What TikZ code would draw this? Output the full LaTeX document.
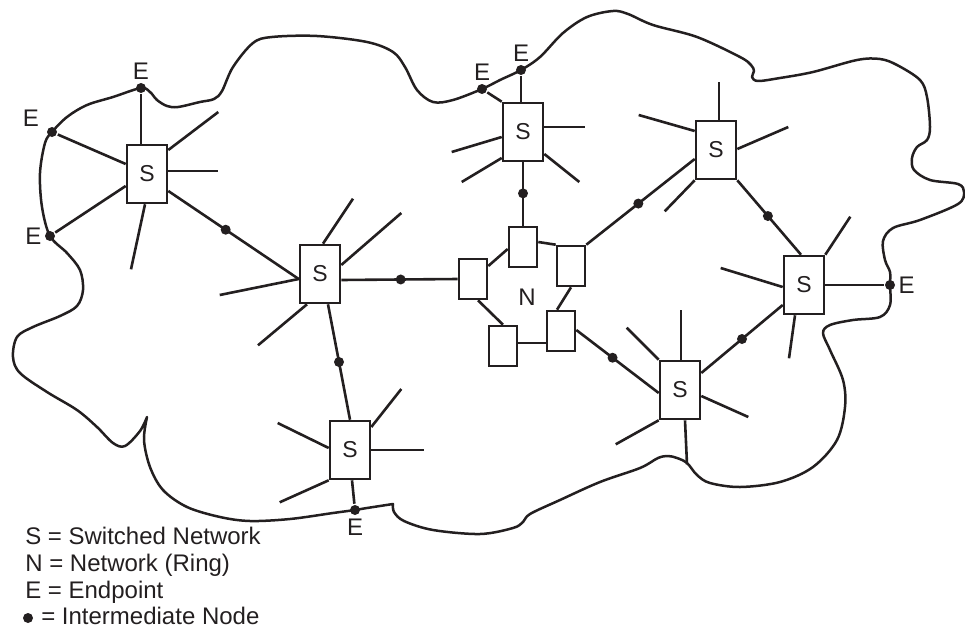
\documentclass[tikz,border=0pt]{standalone}
\usepackage{fontspec}
\setmainfont{Liberation Sans}
\usepackage{tikz}
\usetikzlibrary{calc}
\definecolor{ink}{RGB}{35,31,32}

\begin{document}
\begin{tikzpicture}[x=1pt, y=-1pt, line width=2.6pt, color=ink,
		switch/.style={draw, minimum width=40pt, minimum height=58pt, inner sep=0pt, font=\fontsize{23}{23}\selectfont},
		ringbox/.style={draw, minimum width=28pt, minimum height=40pt, inner sep=0pt},
		idot/.style={circle, fill, inner sep=0pt, minimum size=10pt},
		edot/.style={idot, label distance=7pt},
		elabel/.style={font=\fontsize{24}{24}\selectfont, inner sep=1pt},
		every label/.style={elabel},
		cloud/.style={draw, line width=2.5pt, line join=round}]
		\useasboundingbox (0,0) rectangle (965,629);
		% Cloud:
		\draw[cloud] plot[smooth, tension=.55] coordinates {(147,417) (140,431) (125,446) (113,443) (97,427) (77,410) (47,392) (20,373) (13,357) (17,337) (33,327) (60,316) (77,306) (83,290) (80,270) (67,253) (50,236) (42,207) (40,173) (45,143) (52,132) (67,117) (87,105) (113,97) (141,88) (150,92) (157,100) (167,106) (178,107) (200,102) (214,99) (222,91) (233,67) (253,43) (272,37) (317,36) (367,42) (393,52) (405,67) (417,90) (433,102) (453,100) (482,89) (500,80) (521,70) (540,57) (563,33) (587,17) (613,11) (628,14) (653,25) (697,37) (740,57) (751,65) (754,71) (752,77) (758,81) (780,78) (813,72) (857,60) (880,59) (897,65) (920,80) (927,97) (930,127) (927,140) (917,147) (912,158) (914,170) (930,180) (958,184) (964,192) (958,204) (920,220) (893,228) (883,241) (885,260) (890,272) (890,285) (890,305) (880,317) (853,320) (830,325) (823,333) (830,350) (843,380) (845,407) (837,440) (813,467) (780,482) (740,487) (710,483) (697,475) (687,463) (677,458) (668,456) (658,458) (640,468) (600,482) (560,500) (530,514) (523,522) (513,528) (480,534) (433,530) (404,521) (394,512) (393,504)}
			-- plot[smooth, tension=.55] coordinates {(393,504) (367,508) (355,510) (333,513) (290,519) (250,521) (220,517) (187,507) (163,490) (150,467) (144,440) (147,417)} -- cycle;

		% Switched networks and ring:
		\node[switch] (s1) at (147,174) {S};
		\node[switch] (s2) at (320,274) {S};
		\node[switch] (s3) at (523,132) {S};
		\node[switch] (s4) at (716,150) {S};
		\node[switch] (s5) at (804,285) {S};
		\node[switch] (s6) at (680,390) {S};
		\node[switch] (s7) at (350,450) {S};
		\node[ringbox] (r1) at (473,279) {};
		\node[ringbox] (r2) at (523,247) {};
		\node[ringbox] (r3) at (571,266) {};
		\node[ringbox] (r4) at (561,331) {};
		\node[ringbox] (r5) at (503,346) {};
		\node[elabel] (n) at (527,297) {N};

		% Endpoints:
		\node[edot, label={above:E}] (e1) at (141,88) {};
		\node[edot, label={[label distance=5pt]165:E}] (e2) at (52,132) {};
		\node[edot, label={left:E}] (e3) at (50,236) {};
		\node[edot, label={above:E}] (e4) at (521,70) {};
		\node[edot, label={above:E}] (e5) at (482,89) {};
		\node[edot, label={right:E}] (e6) at (890,285) {};
		\node[edot, label={below:E}] (e7) at (355,510) {};

		% Links with intermediate nodes:
		\draw ($(s1.east)+(0,17)$) -- node[idot, pos=.44] (i1) {} ($(s2.west)+(0,5)$);
		\draw ($(s2.east)+(0,6)$) -- node[idot, pos=.51] (i2) {} (r1.west);
		\draw ($(s2.south)+(8,0)$) -- node[idot, pos=.5] (i3) {} (s7.north);
		\draw (s3.south) -- node[idot, pos=.49] (i4) {} (r2.north);
		\draw (r3.north east) -- node[idot, pos=.48] (i5) {} ($(s4.west)+(0,9)$);
		\draw (s4.south east) -- node[idot, pos=.48] (i6) {} ($(s5.north)+(-3,0)$);
		\draw ($(s5.west)+(0,20)$) -- node[idot, pos=.5] (i7) {} ($(s6.east)+(0,-17)$);
		\draw ($(r4.east)+(0,-1)$) -- node[idot, pos=.44] (i8) {} ($(s6.west)+(0,3)$);

		% Ring:
		\draw ($(r1.east)+(0,-13)$) -- ($(r2.west)+(0,2)$);
		\draw ($(r2.east)+(0,-5)$) -- (r3.north west);
		\draw (r3.south) -- ($(r4.north)+(-4,0)$);
		\draw ($(r4.west)+(0,12)$) -- ($(r5.east)+(0,-3)$);
		\draw (r5.north) -- ($(r1.south)+(5,0)$);

		% Endpoint links:
		\draw (e1) -- (e1 |- s1.north);
		\draw (e2) -- ($(s1.west)+(0,-10)$);
		\draw (e3) -- ($(s1.west)+(0,12)$);
		\draw (e4) -- (e4 |- s3.north);
		\draw (e5) -- (s3.north west);
		\draw (s5.east) -- (e6);
		\draw ($(s7.south)+(2,0)$) -- (e7);

		% Open lines:
		\draw ($(s1.east)+(0,-24)$) -- +(50,-38);
		\draw ($(s1.east)+(0,-3)$) -- +(50,0);
		\draw ($(s1.south)+(-2,0)$) -- +(-14,65);
		\draw ($(s2.north)+(3,0)$) -- +(30,-45);
		\draw ($(s2.east)+(0,-9)$) -- +(60,-52);
		\draw ($(s2.west)+(0,5)$) -- +(-79,16);
		\draw ($(s2.south)+(-13,0)$) -- +(-49,41);
		\draw ($(s3.west)+(0,5)$) -- +(-50,15);
		\draw ($(s3.west)+(0,26)$) -- +(-40,24);
		\draw ($(s3.east)+(0,-5)$) -- +(41,0);
		\draw ($(s3.east)+(0,22)$) -- +(35,28);
		\draw ($(s4.north)+(3,0)$) -- +(0,-38);
		\draw ($(s4.west)+(0,-19)$) -- +(-56,-16);
		\draw ($(s4.east)+(0,-1)$) -- +(51,-22);
		\draw (s4.south west) -- +(-30,31);
		\draw (s5.north east) -- +(25,-38);
		\draw ($(s5.west)+(0,2)$) -- +(-62,-19);
		\draw ($(s5.south)+(-9,0)$) -- +(-6,43);
		\draw ($(s6.north)+(1,0)$) -- +(0,-50);
		\draw (s6.north west) -- +(-32,-32);
		\draw ($(s6.east)+(0,6)$) -- +(47,21);
		\draw (s6.south west) -- +(-43,24);
		\draw ($(s6.south)+(5,0)$) -- +(2,44);
		\draw ($(s7.east)+(0,-23)$) -- +(30,-38);
		\draw ($(s7.west)+(0,-2)$) -- +(-51,-25);
		\draw (s7.east) -- +(53,0);
		\draw (s7.south west) -- +(-49,22);

		% Legend:
		\node[elabel, anchor=base west] (leg1) at (23,544) {S = Switched Network};
		\node[elabel, anchor=base west] (leg2) at (23,571) {N = Network (Ring)};
		\node[elabel, anchor=base west] (leg3) at (23,598) {E = Endpoint};
		\node[idot] (legdot) at (28,618) {};
		\node[elabel, anchor=base west] (leg4) at (39,624) {= Intermediate Node};
	\end{tikzpicture}
\end{document}
